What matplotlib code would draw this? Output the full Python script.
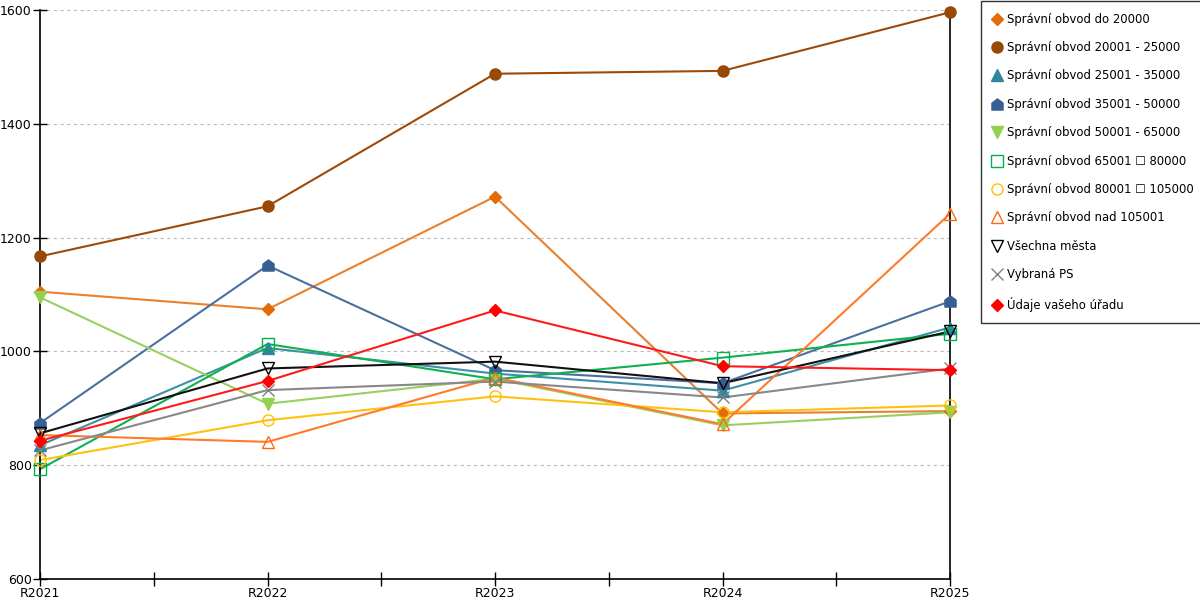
import numpy as np
import matplotlib
matplotlib.use('Agg')
import matplotlib.pyplot as plt
from matplotlib.path import Path

# Categories (years)
years = ['R2021', 'R2022', 'R2023', 'R2024', 'R2025']

# Series values
do_20000 = [1105, 1074, 1272, 891, 895]
s_20001_25000 = [1167, 1255, 1488, 1493, 1596]
s_25001_35000 = [835, 1006, 961, 931, 1042]
s_35001_50000 = [874, 1151, 967, 944, 1088]
s_50001_65000 = [1095, 908, 952, 870, 893]
s_65001_80000 = [793, 1013, 951, 989, 1031]
s_80001_105000 = [809, 879, 921, 893, 905]
nad_105001 = [853, 841, 954, 872, 1242]
vsechna_mesta = [856, 970, 982, 944, 1035]
vybrana_ps = [826, 932, 947, 919, 970]
vas_urad = [843, 948, 1072, 974, 967]

labels = ['Správní obvod do 20000',
          'Správní obvod 20001 - 25000',
          'Správní obvod 25001 - 35000',
          'Správní obvod 35001 - 50000',
          'Správní obvod 50001 - 65000',
          'Správní obvod 65001 \u2610 80000',
          'Správní obvod 80001 \u2610 105000',
          'Správní obvod nad 105001',
          'Všechna města',
          'Vybraná PS',
          'Údaje vašeho úřadu']

# house shaped marker
house = Path([(-1, -1), (1, -1), (1, 0.25), (0, 1), (-1, 0.25), (-1, -1)],
             [Path.MOVETO, Path.LINETO, Path.LINETO, Path.LINETO, Path.LINETO, Path.CLOSEPOLY])

# (values, color, marker, filled, size)
series = [
    (do_20000, '#E36C09', 'D', True, 6.5),
    (s_20001_25000, '#984807', 'o', True, 8),
    (s_25001_35000, '#31859C', '^', True, 8),
    (s_35001_50000, '#376092', house, True, 8),
    (s_50001_65000, '#92D050', 'v', True, 8),
    (s_65001_80000, '#00B050', 's', False, 8),
    (s_80001_105000, '#FFC000', 'o', False, 8),
    (nad_105001, '#FF6A10', '^', False, 8.5),
    (vsechna_mesta, '#000000', 'v', False, 8.5),
    (vybrana_ps, '#808080', 'x', False, 8),
    (vas_urad, '#FF0000', 'D', True, 6.5),
]
line_colors = ['#E8802E', '#9C4A0A', '#3F8FA6', '#4A6FA0', '#98D060',
               '#10B050', '#FFC010', '#FF7A2A', '#111111', '#888888', '#FF1A1A']

plt.rcParams['font.family'] = ['DejaVu Sans']

fig = plt.figure(figsize=(12, 6), dpi=100)
ax = fig.add_axes([40/1200, 21/600, 910/1200, 569/600])

x = np.arange(len(years))
handles = []
for (vals, col, mk, filled, ms), lc, lab in zip(series, line_colors, labels):
    ax.plot(x, vals, color=lc, lw=1.5, zorder=2, clip_on=False)
    if filled:
        h, = ax.plot(x, vals, ls='none', marker=mk, ms=ms, color=col,
                     markeredgecolor=col, zorder=3, label=lab, clip_on=False)
    else:
        h, = ax.plot(x, vals, ls='none', marker=mk, ms=ms, markerfacecolor='none',
                     markeredgecolor=col, markeredgewidth=1.0, zorder=3, label=lab,
                     clip_on=False)
    handles.append(h)

ax.set_xlim(0, len(years) - 1)
ax.set_ylim(600, 1600)
ax.set_yticks([600, 800, 1000, 1200, 1400, 1600])
ax.set_xticks(x)
ax.set_xticklabels(years)
ax.set_xticks(x[:-1] + 0.5, minor=True)
ax.tick_params(axis='x', which='both', direction='inout', length=10, width=1, labelsize=9, pad=1)
ax.tick_params(axis='y', direction='inout', length=10, width=1, labelsize=9, pad=1)

ax.yaxis.grid(True, color='#bbbbbb', linestyle=(0, (3, 3)), lw=0.8)
ax.set_axisbelow(True)
ax.spines['top'].set_visible(False)
for s in ['left', 'bottom', 'right']:
    ax.spines[s].set_color('black')
    ax.spines[s].set_linewidth(1.2)

leg = fig.legend(handles=handles, loc='upper left', bbox_to_anchor=(981/1200, 1 - 1/600),
                 fontsize=8.4, frameon=True, fancybox=False, edgecolor='black',
                 handlelength=0.8, handletextpad=0.4, labelspacing=1.32,
                 borderpad=1.0, borderaxespad=0)
leg.get_frame().set_linewidth(1.0)

fig.savefig('out.png', dpi=100)
